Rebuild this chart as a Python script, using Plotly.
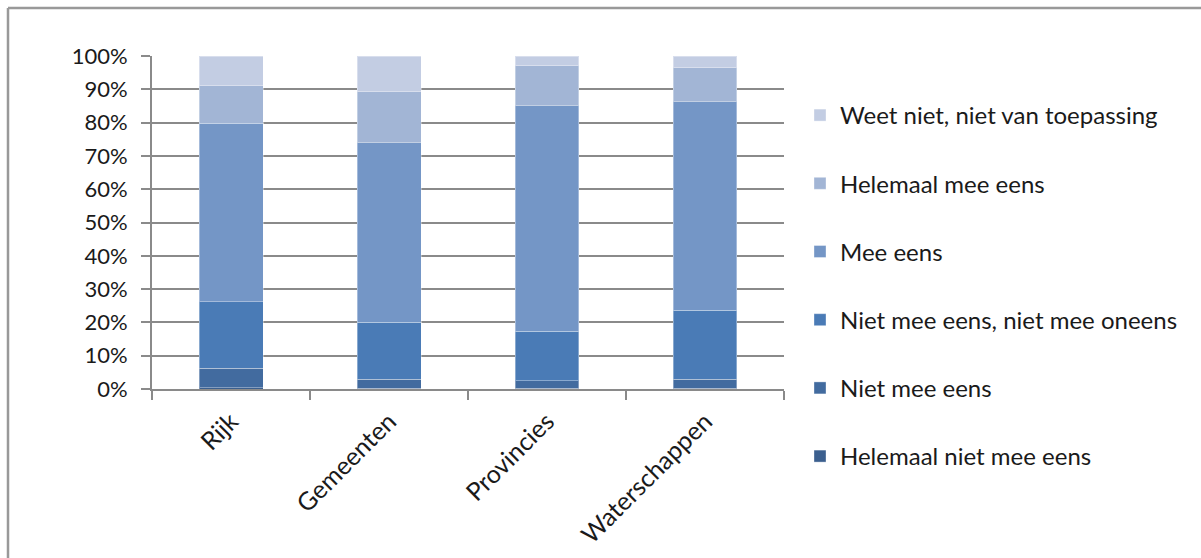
import plotly.graph_objects as go

# Categories (x axis) and response shares in percent, bottom segment first
categories = ["Rijk", "Gemeenten", "Provincies", "Waterschappen"]

helemaal_niet_mee_eens = [0.4, 0.3, 0.3, 0.3]
niet_mee_eens = [5.9, 2.7, 2.2, 2.7]
neutraal = [19.9, 17.0, 14.8, 20.6]
mee_eens = [53.6, 54.0, 67.8, 62.6]
helemaal_mee_eens = [11.3, 15.3, 12.0, 10.3]
weet_niet = [8.9, 10.7, 2.9, 3.5]

series = [
    ("Helemaal niet mee eens", helemaal_niet_mee_eens, "#3b5f8e"),
    ("Niet mee eens", niet_mee_eens, "#426b9f"),
    ("Niet mee eens, niet mee oneens", neutraal, "#4a7bb6"),
    ("Mee eens", mee_eens, "#7496c6"),
    ("Helemaal mee eens", helemaal_mee_eens, "#a2b5d5"),
    ("Weet niet, niet van toepassing", weet_niet, "#c3cde3"),
]

y_ticks = [0, 10, 20, 30, 40, 50, 60, 70, 80, 90, 100]
y_tick_labels = [f"{v}%" for v in y_ticks]

FONT = "Lato, Calibri, Carlito, sans-serif"
TEXT = "#1a1a1a"
GRID = "#8a8a8a"

fig = go.Figure()
n = len(series)
for i, (name, vals, color) in enumerate(series):
    fig.add_trace(go.Bar(
        x=categories,
        y=vals,
        name=name,
        legendgroup=f"g{i}",
        legendrank=100 * (n - i),
        marker=dict(color=color, line=dict(color="rgba(255,255,255,0.35)", width=1)),
        hoverinfo="name+y",
    ))

W, H = 1201, 558
L, R, T, B = 152, 417, 56, 169
pw, ph = W - L - R, H - T - B


def px_x(px):
    return (px - L) / pw


def px_y(py):
    return (H - B - py) / ph


fig.update_layout(
    width=W,
    height=H,
    barmode="stack",
    bargap=0.595,
    margin=dict(l=L, r=R, t=T, b=B, pad=0, autoexpand=False),
    paper_bgcolor="white",
    plot_bgcolor="white",
    font=dict(family=FONT, size=22, color=TEXT),
    showlegend=True,
    legend=dict(
        traceorder="grouped",
        x=px_x(800),
        xanchor="left",
        y=px_y(93),
        yanchor="top",
        tracegroupgap=34,
        maxheight=520,
        font=dict(family=FONT, size=24, color=TEXT),
        bgcolor="rgba(0,0,0,0)",
    ),
    xaxis=dict(
        type="category",
        tickson="boundaries",
        ticks="outside",
        ticklen=9,
        tickwidth=2,
        tickcolor=GRID,
        tickangle=-45,
        showline=True,
        linecolor=GRID,
        linewidth=2,
        showgrid=False,
        tickfont=dict(family=FONT, size=25, color=TEXT),
        ticklabelstandoff=6,
    ),
    yaxis=dict(
        range=[0, 100],
        tickvals=y_ticks,
        ticktext=y_tick_labels,
        ticks="outside",
        ticklen=9,
        tickwidth=2,
        tickcolor=GRID,
        showline=True,
        linecolor=GRID,
        linewidth=2,
        showgrid=True,
        gridcolor=GRID,
        gridwidth=2,
        zeroline=False,
        tickfont=dict(family=FONT, size=22, color=TEXT),
        ticklabelstandoff=9,
    ),
    shapes=[
        dict(type="line", xref="paper", yref="paper",
             x0=px_x(8), x1=px_x(1260), y0=px_y(8), y1=px_y(8),
             line=dict(color="#999999", width=2.5)),
        dict(type="line", xref="paper", yref="paper",
             x0=px_x(8), x1=px_x(8), y0=px_y(8), y1=px_y(620),
             line=dict(color="#999999", width=2.5)),
    ],
)

fig.write_html("out.html")
